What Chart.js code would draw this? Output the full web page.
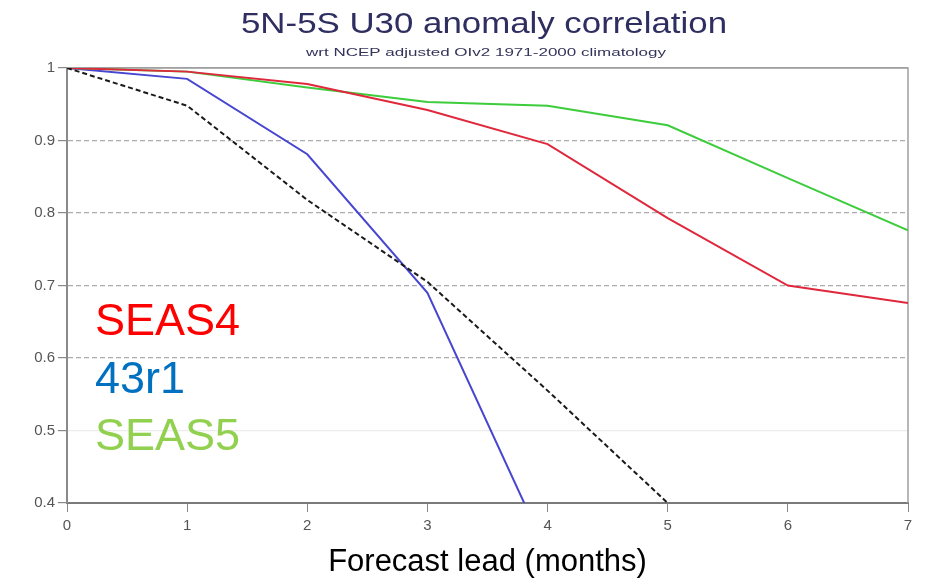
<!DOCTYPE html>
<html>
<head>
<meta charset="utf-8">
<title>5N-5S U30 anomaly correlation</title>
<script src="https://cdn.jsdelivr.net/npm/chart.js@4.4.1/dist/chart.umd.min.js"></script>
<style>
  html, body { margin: 0; padding: 0; background: #fff; }
  #wrap { width: 933px; height: 580px; position: relative; }
</style>
</head>
<body>
<div id="wrap"><canvas id="corrChart"></canvas></div>
<script>
// forecast lead in months
const leads = [0, 1, 2, 3, 4, 5, 6, 7];
const yTicks = [0.4, 0.5, 0.6, 0.7, 0.8, 0.9, 1];

// anomaly correlation by lead
const seas4 = [1, 0.995, 0.978, 0.942, 0.895, 0.793, 0.70, 0.676];
const seas5 = [1, 0.995, 0.973, 0.953, 0.948, 0.921, 0.848, 0.776];
const cy43r1 = [1, 0.985, 0.881, 0.69, 0.33];
const persistence = [1, 0.948, 0.818, 0.705, 0.555, 0.40];

const toPoints = vals => vals.map((v, i) => ({ x: leads[i], y: v }));

const titleText = '5N-5S U30 anomaly correlation';
const subtitleText = 'wrt NCEP adjusted OIv2 1971-2000 climatology';
const keyLabels = [
    { text: 'SEAS4', color: '#ff0000', y: 335 },
    { text: '43r1', color: '#0070c0', y: 393 },
    { text: 'SEAS5', color: '#92d050', y: 450 }
];

// headings are drawn a little stretched, like the old plotting package did
function stretchedText(ctx, text, font, cx, baseline, width, color) {
    ctx.save();
    ctx.font = font;
    ctx.fillStyle = color;
    ctx.textBaseline = 'alphabetic';
    ctx.textAlign = 'left';
    const w = ctx.measureText(text).width;
    const sx = width / w;
    ctx.translate(cx - width / 2, baseline);
    ctx.scale(sx, 1);
    ctx.fillText(text, 0, 0);
    ctx.restore();
}

const decorations = {
    id: 'decorations',
    beforeDatasetsDraw(chart) {
        const { ctx, chartArea: a } = chart;
        ctx.save();
        ctx.strokeStyle = '#a0a0a0';
        ctx.lineWidth = 1.5;
        ctx.beginPath();
        ctx.moveTo(a.left, a.top);
        ctx.lineTo(a.right, a.top);
        ctx.lineTo(a.right, a.bottom);
        ctx.stroke();
        ctx.restore();
    },
    afterDraw(chart) {
        const { ctx } = chart;
        stretchedText(ctx, titleText, '30px "Liberation Sans", Arial, sans-serif', 484, 33, 486, '#2e2e60');
        stretchedText(ctx, subtitleText, '11px "Liberation Sans", Arial, sans-serif', 486, 56, 360, '#34345a');
        ctx.save();
        ctx.font = '45px "Liberation Sans", Arial, sans-serif';
        ctx.textBaseline = 'alphabetic';
        keyLabels.forEach(k => {
            ctx.fillStyle = k.color;
            ctx.fillText(k.text, 95, k.y);
        });
        ctx.restore();
    }
};

const ctx = document.getElementById('corrChart').getContext('2d');
new Chart(ctx, {
    type: 'line',
    data: {
        datasets: [
            {
                label: 'Persistence',
                data: toPoints(persistence),
                borderColor: '#1a1a1a',
                borderWidth: 2,
                borderDash: [5, 3]
            },
            {
                label: 'SEAS4',
                data: toPoints(seas4),
                borderColor: '#e0283c',
                borderWidth: 2
            },
            {
                label: 'SEAS5',
                data: toPoints(seas5),
                borderColor: '#3ccc3c',
                borderWidth: 2
            },
            {
                label: '43r1',
                data: toPoints(cy43r1),
                borderColor: '#4646d0',
                borderWidth: 2
            }
        ]
    },
    options: {
        responsive: true,
        maintainAspectRatio: false,
        animation: false,
        pointRadius: 0,
        tension: 0,
        layout: { padding: { top: 68, right: 25, left: 0, bottom: 0 } },
        plugins: {
            legend: { display: false },
            tooltip: { enabled: false }
        },
        scales: {
            x: {
                type: 'linear',
                min: 0,
                max: 7,
                afterFit: s => { s.height = 77; },
                ticks: {
                    stepSize: 1,
                    padding: 5,
                    color: '#555',
                    font: { family: '"Liberation Sans", Arial, sans-serif', size: 15 }
                },
                grid: { drawOnChartArea: false, tickLength: 9, tickColor: '#888' },
                border: { color: '#7a7a7a', width: 2 },
                title: {
                    display: true,
                    text: 'Forecast lead (months)',
                    color: '#000',
                    padding: { top: 0, bottom: 2 },
                    font: { family: '"Liberation Sans", Arial, sans-serif', size: 31, lineHeight: 1 }
                }
            },
            y: {
                min: 0.4,
                max: 1,
                afterFit: s => { s.width = 67; },
                afterBuildTicks: s => { s.ticks = yTicks.map(v => ({ value: v })); },
                ticks: {
                    padding: 3,
                    color: '#555',
                    font: { family: '"Liberation Sans", Arial, sans-serif', size: 15 },
                    callback: v => String(Math.round(v * 10) / 10)
                },
                grid: {
                    tickLength: 9,
                    tickColor: '#888',
                    lineWidth: 1.2,
                    color: c => {
                        if (!c.tick) return '#aaa';
                        const v = Math.round(c.tick.value * 10);
                        if (v === 10) return '#a0a0a0';
                        if (v === 5) return '#ececec';
                        if (v === 4) return 'rgba(0,0,0,0)';
                        return '#adadad';
                    }
                },
                border: {
                    color: '#8a8a8a',
                    width: 2,
                    dash: c => {
                        if (!c.tick) return [];
                        const v = Math.round(c.tick.value * 10);
                        return (v >= 6 && v <= 9) ? [5, 3] : [];
                    }
                }
            }
        }
    },
    plugins: [decorations]
});
</script>
</body>
</html>
